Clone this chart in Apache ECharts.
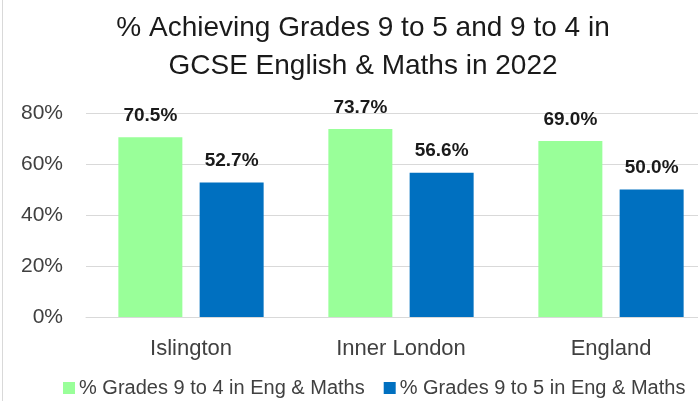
<!DOCTYPE html>
<html>
<head>
<meta charset="utf-8">
<script src="https://cdn.jsdelivr.net/npm/echarts@6/dist/echarts.min.js"></script>
<style>
  html, body { margin: 0; padding: 0; background: #fff; overflow: hidden; width: 698px; height: 401px; }
  /* the original chart is cropped on the right, so the canvas runs past the window */
  #chart { width: 716px; height: 401px; }
</style>
</head>
<body>
<div id="chart"></div>
<script>
// GCSE Eng & Maths attainment 2022
const categories = ['Islington', 'Inner London', 'England']
const grades9to4 = [70.5, 73.7, 69.0]
const grades9to5 = [52.7, 56.6, 50.0]
const seriesNames = ['% Grades 9 to 4 in Eng & Maths', '% Grades 9 to 5 in Eng & Maths']
const yTicks = [0, 20, 40, 60, 80]

const FONT = 'Liberation Sans, Arial, sans-serif'

const chart = echarts.init(document.getElementById('chart'), null, { renderer: 'canvas' })

const labelStyle = {
  show: true,
  position: 'top',
  distance: 12,
  fontFamily: FONT,
  fontSize: 19,
  fontWeight: 'bold',
  color: '#1a1a1a',
  formatter: p => p.value.toFixed(1) + '%',
}

chart.setOption({
  backgroundColor: '#fff',
  animation: false,
  title: {
    text: '% Achieving Grades 9 to 5 and 9 to 4 in\nGCSE English & Maths in 2022',
    left: 358,
    textAlign: 'center',
    top: 4,
    textStyle: { fontFamily: FONT, fontSize: 28, fontWeight: 'normal', color: '#1a1a1a', lineHeight: 38 },
  },
  graphic: [{
    type: 'line',
    shape: { x1: 2.5, y1: 0, x2: 2.5, y2: 401 },
    style: { stroke: '#d9d9d9', lineWidth: 1 },
  }],
  legend: {
    left: 58,
    top: 373,
    icon: 'rect',
    itemWidth: 12,
    itemHeight: 12,
    itemGap: 19,
    textStyle: { fontFamily: FONT, fontSize: 20, color: '#404040', padding: [0, 0, 0, -1] },
    data: seriesNames,
  },
  grid: { left: 86, top: 113, bottom: 84, right: 0 },
  xAxis: {
    type: 'category',
    data: categories,
    axisTick: { show: false },
    axisLine: { lineStyle: { color: '#d9d9d9', width: 1 } },
    axisLabel: { fontFamily: FONT, fontSize: 22, color: '#404040', margin: 21 },
  },
  yAxis: {
    type: 'value',
    min: yTicks[0],
    max: yTicks[yTicks.length - 1],
    interval: 20,
    axisLine: { show: false },
    axisTick: { show: false },
    axisLabel: { fontFamily: FONT, fontSize: 21, color: '#404040', margin: 23, formatter: '{value}%' },
    splitLine: { lineStyle: { color: '#d9d9d9', width: 1 } },
  },
  series: [
    {
      name: seriesNames[0], type: 'bar', data: grades9to4,
      barWidth: 64, barGap: '27%',
      itemStyle: { color: '#99ff99' },
      label: labelStyle,
    },
    {
      name: seriesNames[1], type: 'bar', data: grades9to5,
      barWidth: 64, barGap: '27%',
      itemStyle: { color: '#0070c0' },
      label: labelStyle,
    },
  ],
})
</script>
</body>
</html>
